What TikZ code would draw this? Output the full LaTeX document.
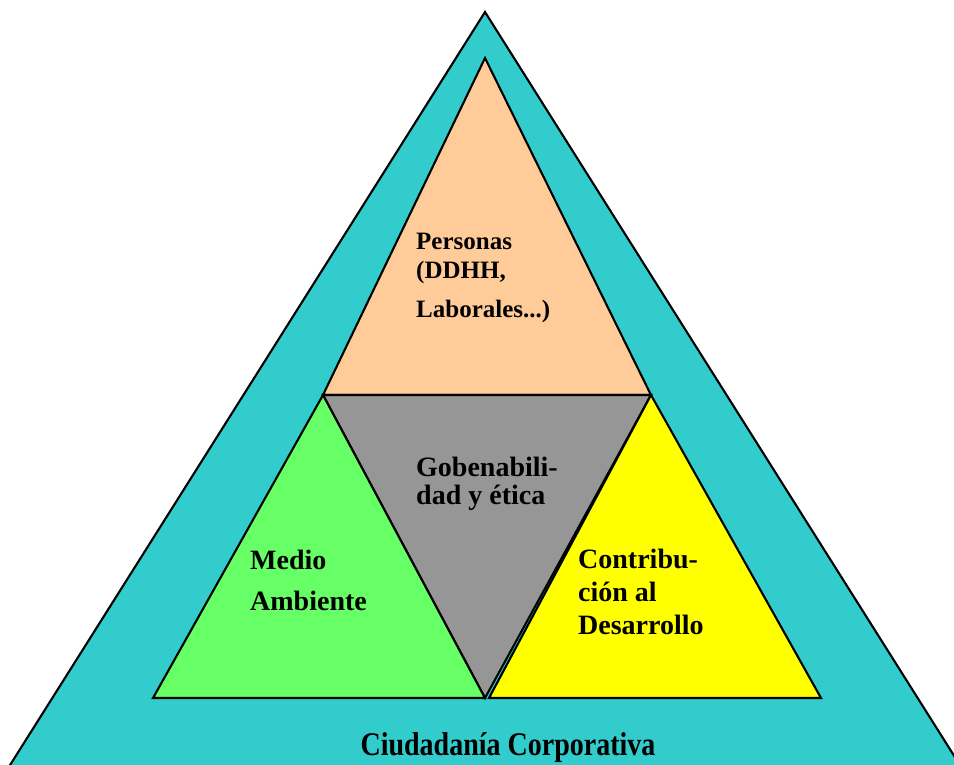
\documentclass[tikz,border=0pt]{standalone}
\usepackage{fontspec}
\setmainfont{Liberation Serif}
\definecolor{teal1}{RGB}{51,204,204}
\definecolor{peach}{RGB}{255,204,153}
\definecolor{grey1}{RGB}{150,150,150}
\definecolor{green1}{RGB}{102,255,102}
\definecolor{yellow1}{RGB}{255,255,0}
\begin{document}
\begin{tikzpicture}[x=1pt,y=-1pt,
  tripart/.style={draw=black,line width=2.1pt,line join=miter},
  lbl/.style={anchor=base west,inner sep=0pt,font=\bfseries\fontsize{28}{28}\selectfont},
  lbls/.style={anchor=base west,inner sep=0pt,font=\bfseries\fontsize{25}{25}\selectfont}]
\useasboundingbox (0,0) rectangle (954,764);
\clip (0,0) rectangle (954,764);
\fill[white] (0,0) rectangle (954,764);
% outer triangle
\coordinate (oA) at (485,12);
\coordinate (oL) at (-12,800);
\coordinate (oR) at (982,800);
\filldraw[tripart,fill=teal1] (oA) -- (oL) -- (oR) -- cycle;
% inner points
\coordinate (pA) at (485,58);
\coordinate (mL) at (323,395);
\coordinate (mR) at (651,395);
\coordinate (gB) at (485,698);
\coordinate (gL) at (153,698);
\coordinate (yB) at (489,698);
\coordinate (yR) at (821,698);
\filldraw[tripart,fill=peach] (pA) -- (mR) -- (mL) -- cycle;
\filldraw[tripart,fill=grey1] (mL) -- (mR) -- (gB) -- cycle;
\filldraw[tripart,fill=green1] (mL) -- (gB) -- (gL) -- cycle;
\filldraw[tripart,fill=yellow1] (mR) -- (yR) -- (yB) -- cycle;
% labels
\node[lbls] (p1) at (416,249) {Personas};
\node[lbls] (p2) at (416,278) {(DDHH,};
\node[lbls] (p3) at (416,317) {Laborales...)};
\node[lbl] (g1) at (416,476) {Gobenabili-};
\node[lbl] (g2) at (416,504) {dad y ética};
\node[lbl] (m1) at (250,569) {Medio};
\node[lbl] (m2) at (250,610) {Ambiente};
\node[lbl] (c1) at (578,568) {Contribu-};
\node[lbl] (c2) at (578,601) {ción al};
\node[lbl] (c3) at (578,634) {Desarrollo};
\node[anchor=base,inner sep=0pt,font=\bfseries\fontsize{28}{28}\selectfont] (cc) at (508,755) {\scalebox{1}[1.18]{Ciudadanía Corporativa}};
\end{tikzpicture}
\end{document}
